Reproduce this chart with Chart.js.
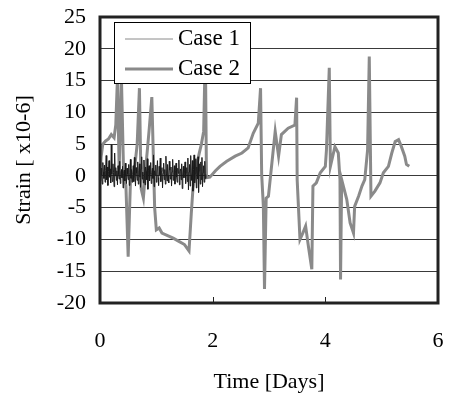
<!DOCTYPE html>
<html>
<head>
<meta charset="utf-8">
<script src="https://cdn.jsdelivr.net/npm/chart.js@4/dist/chart.umd.min.js"></script>
<style>
  body { margin: 0; background: #fff; }
  canvas { display: block; }
</style>
</head>
<body>
<canvas id="myChart" width="449" height="396"></canvas>
<script>
// series names
var seriesNames = ['Case 1', 'Case 2'];

// Case 1 - noisy strain, first ~1.9 days
var case1Time = [
  0.00, 0.01, 0.02, 0.03, 0.04, 0.05, 0.06, 0.07, 0.08, 0.09,
  0.10, 0.11, 0.12, 0.13, 0.14, 0.15, 0.16, 0.17, 0.18, 0.19,
  0.20, 0.21, 0.22, 0.23, 0.24, 0.25, 0.26, 0.27, 0.28, 0.29,
  0.30, 0.31, 0.32, 0.33, 0.34, 0.35, 0.36, 0.37, 0.38, 0.39,
  0.40, 0.41, 0.42, 0.43, 0.44, 0.45, 0.46, 0.47, 0.48, 0.49,
  0.50, 0.51, 0.52, 0.53, 0.54, 0.55, 0.56, 0.57, 0.58, 0.59,
  0.60, 0.61, 0.62, 0.63, 0.64, 0.65, 0.66, 0.67, 0.68, 0.69,
  0.70, 0.71, 0.72, 0.73, 0.74, 0.75, 0.76, 0.77, 0.78, 0.79,
  0.80, 0.81, 0.82, 0.83, 0.84, 0.85, 0.86, 0.87, 0.88, 0.89,
  0.90, 0.91, 0.92, 0.93, 0.94, 0.95, 0.96, 0.97, 0.98, 0.99,
  1.00, 1.01, 1.02, 1.03, 1.04, 1.05, 1.06, 1.07, 1.08, 1.09,
  1.10, 1.11, 1.12, 1.13, 1.14, 1.15, 1.16, 1.17, 1.18, 1.19,
  1.20, 1.21, 1.22, 1.23, 1.24, 1.25, 1.26, 1.27, 1.28, 1.29,
  1.30, 1.31, 1.32, 1.33, 1.34, 1.35, 1.36, 1.37, 1.38, 1.39,
  1.40, 1.41, 1.42, 1.43, 1.44, 1.45, 1.46, 1.47, 1.48, 1.49,
  1.50, 1.51, 1.52, 1.53, 1.54, 1.55, 1.56, 1.57, 1.58, 1.59,
  1.60, 1.61, 1.62, 1.63, 1.64, 1.65, 1.66, 1.67, 1.68, 1.69,
  1.70, 1.71, 1.72, 1.73, 1.74, 1.75, 1.76, 1.77, 1.78, 1.79,
  1.80, 1.81, 1.82, 1.83, 1.84, 1.85, 1.86, 1.87, 1.88];
var case1Strain = [
  0.4, -0.8, 1.2, 0.1, -1.3, 2.1, 0.6, -0.4, 1.7, -1.0,
  0.9, 3.2, -0.6, 1.4, -1.5, 0.7, 2.4, -0.2, 1.1, -1.1,
  4.9, 0.3, -0.9, 1.9, 0.5, -1.7, 3.6, 0.0, 1.3, -0.7,
  0.8, -1.4, 1.6, 0.2, -0.5, 2.3, -1.2, 0.6, 1.0, -0.3,
  1.5, -1.9, 0.4, 0.9, -0.8, 2.0, -0.1, -1.2, 1.2, 0.3,
  -0.6, 1.8, -1.5, 0.5, 2.6, -0.4, 1.0, -1.0, 0.2, 1.6,
  -0.9, 2.9, 0.1, -1.6, 1.3, 0.4, -0.7, 2.2, -1.3, 0.8,
  1.9, -0.2, -1.8, 1.1, 3.0, -0.5, 0.6, -1.1, 2.5, 0.0,
  -1.4, 1.4, 0.7, -0.6, 2.7, -2.1, 0.9, 1.6, -0.8, 0.3,
  2.1, -1.2, 0.5, 1.2, -0.4, 3.3, -1.7, 0.8, 0.1, 1.7,
  -1.0, 0.6, 2.4, -0.3, -1.5, 1.5, 0.2, 2.8, -0.9, 0.7,
  1.3, -1.9, 0.4, 2.0, -0.6, 1.0, -1.3, 3.1, 0.3, -0.8,
  1.8, 0.0, -1.1, 2.3, 0.9, -0.5, 1.4, -1.6, 0.6, 2.6,
  -0.7, 0.2, 1.6, -1.3, 0.8, 2.0, -0.2, -1.0, 1.2, 0.4,
  2.5, -1.4, 0.7, 1.1, -0.6, 1.9, -2.0, 0.3, 1.5, -0.3,
  0.9, 2.2, -1.2, 0.5, 1.3, -0.9, 2.8, -2.2, 0.6, 1.8,
  -1.6, 3.2, 0.2, -0.7, 2.4, -2.4, 1.0, 3.3, -1.1, 0.4,
  2.7, -1.9, 1.4, -0.5, 3.0, -2.6, 0.8, 1.9, -1.3, 2.2,
  -0.6, 2.9, -1.7, 0.5, 1.6, -1.0, 2.3, -0.4, 0.2];

// Case 2 - strain over 5.5 days
var case2Time = [0, 0.02, 0.05, 0.1, 0.15, 0.2, 0.25, 0.28, 0.31, 0.34,
  0.38, 0.42, 0.46, 0.5, 0.54, 0.6, 0.66, 0.7, 0.73, 0.77,
  0.82, 0.87, 0.92, 0.97, 1.0, 1.05, 1.1, 1.2, 1.3, 1.4,
  1.5, 1.58, 1.62, 1.65, 1.7, 1.76, 1.8, 1.84, 1.87, 1.89,
  1.95, 2.05, 2.13, 2.25, 2.4, 2.52, 2.63, 2.72, 2.81, 2.85,
  2.87, 2.9, 2.92, 2.95, 2.99, 3.11, 3.17, 3.22, 3.34, 3.46,
  3.49, 3.5, 3.55, 3.6, 3.65, 3.7, 3.76, 3.78, 3.84, 3.91,
  4.0, 4.02, 4.07, 4.09, 4.17, 4.23, 4.26, 4.27, 4.29, 4.38,
  4.44, 4.5, 4.52, 4.59, 4.65, 4.7, 4.75, 4.78, 4.81, 4.88,
  4.97, 5.03, 5.12, 5.18, 5.24, 5.3, 5.35, 5.41, 5.44, 5.49];
var case2Strain = [0, 3, 5, 5.5, 5.8, 6.5, 6, 8, 15.5, 1,
  15.5, 0, -1.5, -12.7, -1, 0, 5, 13.8, -2, -3.5,
  2, 7, 12.4, -5, -8.5, -8.2, -9, -9.4, -9.8, -10.3,
  -10.8, -11.8, -6, -2, 1, 3.5, 5, 7, 20, -0.3,
  -0.2, 0.8, 1.5, 2.3, 3.1, 3.6, 4.4, 6.7, 8.3, 13.8,
  0.2, -4.8, -17.8, -3.5, -3.2, 7, 3.1, 6.5, 7.5, 8,
  12.3, -0.6, -10, -9, -7.9, -11.1, -14.7, -1.6, -1.1, 0.5,
  1.5, 4.1, 17, 1.5, 4.6, 3.6, -0.6, -16.3, -0.6, -3.7,
  -7.4, -9, -4.8, -3.2, -1.6, -0.6, 4.1, 18.8, -3.2, -2.4,
  -1.1, 0.5, 1.5, 3.6, 5.4, 5.7, 4.6, 3.1, 1.8, 1.5];

// axis ticks
var xTicks = [0, 2, 4, 6];
var yTicks = [-20, -15, -10, -5, 0, 5, 10, 15, 20, 25];

var FONT = "'Liberation Serif', 'Times New Roman', serif";
var GRAY = '#8a8a8a';

function toPoints(xs, ys) {
  var pts = [];
  for (var i = 0; i < xs.length; i++) pts.push({x: xs[i], y: ys[i]});
  return pts;
}

// let layout.padding alone decide the plot margins
function noScalePadding(s) {
  s.paddingTop = 0;
  s.paddingBottom = 0;
  s.paddingLeft = 0;
  s.paddingRight = 0;
}

// border, inward x ticks, and the boxed legend drawn inside the plot
var framePlugin = {
  id: 'frame',
  afterDraw: function(chart) {
    var ctx = chart.ctx;
    var a = chart.chartArea;
    var xs = chart.scales.x;
    ctx.save();
    ctx.strokeStyle = '#222';
    ctx.lineWidth = 1;
    xTicks.forEach(function(t) {
      var px = Math.round(xs.getPixelForValue(t)) + 0.5;
      ctx.beginPath();
      ctx.moveTo(px, a.bottom);
      ctx.lineTo(px, a.bottom - 6);
      ctx.stroke();
    });
    ctx.lineWidth = 3;
    ctx.strokeRect(a.left, a.top, a.right - a.left, a.bottom - a.top);

    // legend
    var lx = a.left + 14, ly = a.top + 5, lw = 136, lh = 61;
    ctx.fillStyle = '#fff';
    ctx.fillRect(lx, ly, lw, lh);
    ctx.lineWidth = 1;
    ctx.strokeStyle = '#000';
    ctx.strokeRect(lx + 0.5, ly + 0.5, lw, lh);
    ctx.font = '23px ' + FONT;
    ctx.fillStyle = '#000';
    ctx.textBaseline = 'middle';
    var widths = [1, 3];
    seriesNames.forEach(function(name, i) {
      var yy = ly + 17 + i * 30;
      ctx.strokeStyle = GRAY;
      ctx.lineWidth = widths[i];
      ctx.beginPath();
      ctx.moveTo(lx + 11, yy);
      ctx.lineTo(lx + 59, yy);
      ctx.stroke();
      ctx.fillText(name, lx + 64, yy);
    });
    ctx.restore();
  }
};

var ctx = document.getElementById('myChart');
var myChart = new Chart(ctx, {
  type: 'line',
  data: {
    datasets: [{
      label: seriesNames[1],
      data: toPoints(case2Time, case2Strain),
      borderColor: GRAY,
      borderWidth: 3,
      pointRadius: 0,
      tension: 0,
      order: 2
    }, {
      label: seriesNames[0],
      data: toPoints(case1Time, case1Strain),
      borderColor: '#1a1a1a',
      borderWidth: 1,
      pointRadius: 0,
      tension: 0,
      order: 1
    }]
  },
  options: {
    responsive: false,
    animation: false,
    layout: { padding: { top: 17, right: 11, left: 0, bottom: 0 } },
    plugins: {
      legend: { display: false },
      tooltip: { enabled: false }
    },
    scales: {
      x: {
        type: 'linear',
        min: 0,
        max: 6,
        afterBuildTicks: function(s) { s.ticks = xTicks.map(function(v) { return {value: v}; }); },
        afterFit: function(s) { s.height = 93; noScalePadding(s); },
        grid: { display: false },
        border: { display: false },
        ticks: { color: '#000', padding: 17, maxRotation: 0, font: { family: FONT, size: 22 } },
        title: {
          display: true,
          text: 'Time [Days]',
          color: '#000',
          font: { family: FONT, size: 22 },
          padding: { top: 0, bottom: 1 }
        }
      },
      y: {
        min: -20,
        max: 25,
        afterBuildTicks: function(s) { s.ticks = yTicks.map(function(v) { return {value: v}; }); },
        afterFit: function(s) { s.width = 100; noScalePadding(s); },
        grid: { color: '#3a3a3a', lineWidth: 1, drawTicks: false },
        border: { display: false },
        ticks: { color: '#000', padding: 14, font: { family: FONT, size: 22 } },
        title: {
          display: true,
          text: 'Strain [ x10-6]',
          color: '#000',
          font: { family: FONT, size: 22 },
          padding: { top: 11, bottom: 0 }
        }
      }
    }
  },
  plugins: [framePlugin]
});
</script>
</body>
</html>
